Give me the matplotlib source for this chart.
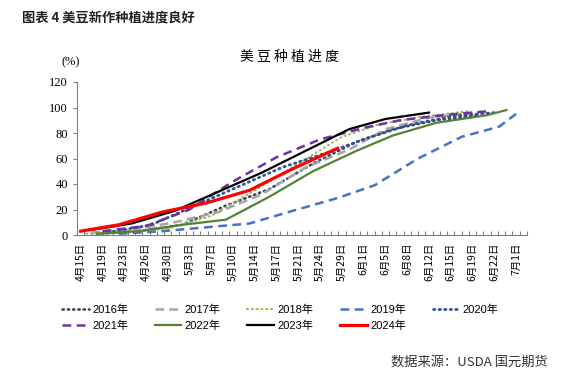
import matplotlib
matplotlib.use("Agg")
import matplotlib.pyplot as plt
import numpy as np

plt.rcParams['font.family'] = ['Noto Sans CJK SC', 'DejaVu Sans']

# x axis: category labels (every 3rd category is labelled)
tick_dates = ['4/15', '4/19', '4/23', '4/26', '4/30', '5/3', '5/7', '5/10', '5/14',
              '5/17', '5/21', '5/24', '5/29', '6/1', '6/5', '6/8', '6/12', '6/15',
              '6/19', '6/22', '7/1']
n_categories = 62

# planting progress (%) by report date
d2016 = ['4/18', '4/25', '5/2', '5/9', '5/16', '5/23', '5/31', '6/6', '6/13', '6/20']
v2016 = [1, 3, 8, 23, 36, 56, 73, 83, 90, 94]
d2017 = ['4/17', '4/24', '5/1', '5/8', '5/15', '5/22', '5/30', '6/5', '6/12', '6/19']
v2017 = [2, 4, 10, 18, 32, 53, 67, 83, 92, 96]
d2018 = ['4/16', '4/23', '4/30', '5/7', '5/14', '5/21', '5/29', '6/4', '6/11', '6/18']
v2018 = [1, 2, 5, 15, 35, 56, 77, 87, 93, 97]
d2019 = ['4/22', '4/29', '5/6', '5/13', '5/20', '5/28', '6/3', '6/10', '6/17', '6/24', '7/1']
v2019 = [1, 3, 6, 9, 19, 29, 39, 60, 77, 85, 95]
d2020 = ['4/20', '4/27', '5/4', '5/11', '5/18', '5/26', '6/1', '6/8', '6/15', '6/22']
v2020 = [2, 8, 23, 38, 53, 65, 75, 86, 93, 96]
d2021 = ['4/19', '4/26', '5/3', '5/10', '5/17', '5/24', '6/1', '6/7', '6/14', '6/21']
v2021 = [3, 7, 20, 42, 61, 75, 84, 90, 94, 97]
d2022 = ['4/18', '4/25', '5/2', '5/9', '5/16', '5/23', '5/31', '6/6', '6/13', '6/21', '6/27']
v2022 = [1, 3, 8, 12, 30, 50, 66, 78, 88, 94, 98]
d2023 = ['4/17', '4/24', '5/1', '5/8', '5/15', '5/22', '5/30', '6/5', '6/12']
v2023 = [4, 9, 19, 34, 49, 66, 83, 91, 96]
d2024 = ['4/15', '4/22', '4/29', '5/6', '5/13', '5/20', '5/28']
v2024 = [3, 8, 18, 25, 35, 52, 68]


def day_num(s):
    m, d = s.split('/')
    return {4: 0, 5: 30, 6: 61, 7: 91}[int(m)] + int(d)


tick_pos = np.arange(0, 3 * len(tick_dates), 3)
tick_days = [day_num(s) for s in tick_dates]


def to_x(dates):
    return np.interp([day_num(s) for s in dates], tick_days, tick_pos)


series = [
    ('2016年', d2016, v2016, dict(color='#3B4660', lw=1.9, ls=(0, (0.5, 1.5)), dash_capstyle='round')),
    ('2017年', d2017, v2017, dict(color='#A5A5A5', lw=1.8, ls=(0, (3.5, 2.0)))),
    ('2018年', d2018, v2018, dict(color='#9BBB59', lw=1.5, ls=(0, (0.5, 1.8)), dash_capstyle='round')),
    ('2019年', d2019, v2019, dict(color='#4472C4', lw=1.8, ls=(0, (3.5, 2.2)))),
    ('2020年', d2020, v2020, dict(color='#2F5597', lw=2.0, ls=(0, (0.5, 1.5)), dash_capstyle='round')),
    ('2021年', d2021, v2021, dict(color='#7030A0', lw=1.8, ls=(0, (3.5, 2.2)))),
    ('2022年', d2022, v2022, dict(color='#548235', lw=1.6, ls='-')),
    ('2023年', d2023, v2023, dict(color='#000000', lw=1.6, ls='-')),
    ('2024年', d2024, v2024, dict(color='#FF0000', lw=2.3, ls='-')),
]

fig = plt.figure(figsize=(5.61, 3.75), dpi=100)
ax = fig.add_axes([77 / 561, 140 / 375, 450 / 561, 153 / 375])

handles = []
for name, dates, vals, style in series:
    h, = ax.plot(to_x(dates), vals, label=name, **style)
    handles.append(h)

ax.set_xlim(-0.5, n_categories - 0.5)
ax.set_ylim(0, 120)
ax.set_yticks(np.arange(0, 121, 20))

ax.set_xticks(tick_pos)
ax.set_xticklabels([s.replace('/', '月') + '日' for s in tick_dates], rotation=90, fontsize=7.5)
ax.set_xticks(np.arange(-0.5, n_categories, 1), minor=True)
ax.tick_params(axis='x', which='major', length=0, pad=5.5)
ax.tick_params(axis='x', which='minor', direction='in', length=3, color='#808080', width=0.8)
ax.tick_params(axis='y', direction='out', length=3, color='#808080', width=0.8, pad=3.5,
               labelfontfamily='Liberation Serif', labelsize=9)

for side in ['top', 'right']:
    ax.spines[side].set_visible(False)
for side in ['left', 'bottom']:
    ax.spines[side].set_color('#808080')
    ax.spines[side].set_linewidth(0.8)

fig.text(22 / 561, 1 - 17 / 375, '图表 4 美豆新作种植进度良好', fontsize=9.5,
         fontweight='bold', va='center', ha='left', color='#222222')
fig.text(289 / 561, 1 - 57 / 375, '美 豆 种 植 进 度', fontsize=10, va='center', ha='center')
fig.text(71 / 561, 1 - 62 / 375, '(%)', fontsize=9, family='Liberation Serif',
         va='center', ha='center')
fig.text(548 / 561, 1 - 362 / 375, '数据来源：USDA 国元期货', fontsize=9.5,
         va='center', ha='right', color='#333333')

# row-major order for a 5-column legend
order = [0, 5, 1, 6, 2, 7, 3, 8, 4]
fig.legend([handles[i] for i in order], [series[i][0] for i in order],
           loc='upper left', bbox_to_anchor=(62 / 561, 1 - 305 / 375), ncol=5,
           frameon=False, handlelength=2.4, handletextpad=0.3, columnspacing=2.4,
           labelspacing=0.45, borderpad=0, borderaxespad=0,
           prop={'family': ['Liberation Sans', 'Noto Sans CJK SC'], 'size': 8})

fig.savefig('out.png', dpi=100)
